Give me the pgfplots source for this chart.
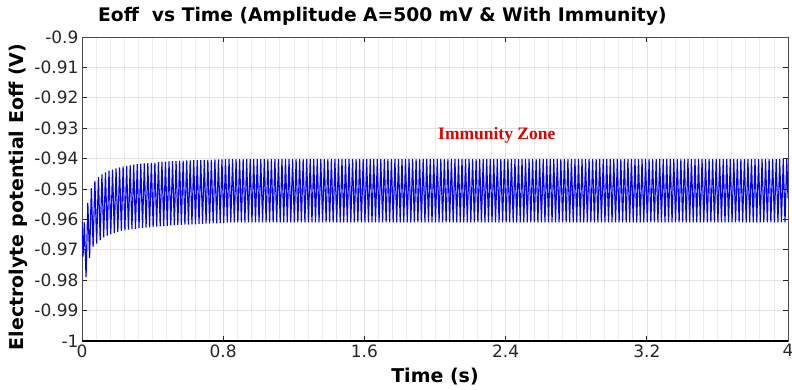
\documentclass[border=0pt]{standalone}
\usepackage{pgfplots}
\pgfplotsset{compat=1.18}
\usetikzlibrary{calc}
\usepackage{fontspec}
\setmainfont{DejaVu Sans}
\newfontfamily\serifbf{Liberation Serif}
\begin{document}
\begin{tikzpicture}
\begin{axis}[
  scale only axis, width=706pt, height=304pt,
  xmin=0, xmax=4, ymin=-1, ymax=-0.9,
  xtick={0,0.8,1.6,2.4,3.2,4}, xticklabels={0,0.8,1.6,2.4,3.2,4},
  ytick={-1,-0.99,-0.98,-0.97,-0.96,-0.95,-0.94,-0.93,-0.92,-0.91,-0.9},
  yticklabels={-1,-0.99,-0.98,-0.97,-0.96,-0.95,-0.94,-0.93,-0.92,-0.91,-0.9},
  tick label style={font=\fontsize{17}{17}\selectfont, text=black!85},
  minor x tick num=9,
  xmajorgrids, xminorgrids, ymajorgrids,
  major grid style={black!11, line width=0.6pt},
  minor grid style={black!7, line width=0.6pt},
  minor tick length=0pt, major tick length=5pt,
  axis line style={black!70, line width=0.6pt},
  tick style={black!85, line width=0.7pt},
]
\addplot[blue, line width=1.15pt] coordinates {
(0,-0.9607) (0.006,-0.9722) (0.013,-0.9610) (0.023,-0.9790) (0.033,-0.9546) (0.043,-0.9727) (0.053,-0.9497) (0.063,-0.9690) (0.073,-0.9473) (0.083,-0.9680)
(0.093,-0.9461) (0.103,-0.9668) (0.113,-0.9452) (0.123,-0.9659) (0.133,-0.9445) (0.143,-0.9653) (0.153,-0.9440) (0.163,-0.9648) (0.173,-0.9436) (0.183,-0.9644)
(0.193,-0.9432) (0.203,-0.9641) (0.213,-0.9429) (0.223,-0.9638) (0.233,-0.9426) (0.243,-0.9636) (0.253,-0.9424) (0.263,-0.9634) (0.273,-0.9422) (0.283,-0.9632)
(0.293,-0.9420) (0.303,-0.9631) (0.313,-0.9418) (0.323,-0.9629) (0.333,-0.9417) (0.343,-0.9628) (0.353,-0.9416) (0.363,-0.9627) (0.373,-0.9415) (0.383,-0.9626)
(0.393,-0.9414) (0.403,-0.9625) (0.413,-0.9413) (0.423,-0.9624) (0.433,-0.9412) (0.443,-0.9623) (0.453,-0.9411) (0.463,-0.9622) (0.473,-0.9410) (0.483,-0.9621)
(0.493,-0.9409) (0.503,-0.9620) (0.513,-0.9408) (0.523,-0.9619) (0.533,-0.9408) (0.543,-0.9619) (0.553,-0.9407) (0.563,-0.9618) (0.573,-0.9407) (0.583,-0.9617)
(0.593,-0.9406) (0.603,-0.9617) (0.613,-0.9406) (0.623,-0.9616) (0.633,-0.9405) (0.643,-0.9616) (0.653,-0.9405) (0.663,-0.9615) (0.673,-0.9405) (0.683,-0.9615)
(0.693,-0.9404) (0.703,-0.9614) (0.713,-0.9404) (0.723,-0.9614) (0.733,-0.9404) (0.743,-0.9613) (0.753,-0.9403) (0.763,-0.9613) (0.773,-0.9403) (0.783,-0.9612)
(0.793,-0.9403) (0.803,-0.9612)
(0.813,-0.9402) (0.823,-0.961) (0.833,-0.9402) (0.843,-0.961) (0.853,-0.9402) (0.863,-0.961) (0.873,-0.9402) (0.883,-0.961) (0.893,-0.9402) (0.903,-0.961)
(0.913,-0.9402) (0.923,-0.961) (0.933,-0.9402) (0.943,-0.961) (0.953,-0.9402) (0.963,-0.961) (0.973,-0.9402) (0.983,-0.961) (0.993,-0.9402) (1.003,-0.961)
(1.013,-0.9402) (1.023,-0.961) (1.033,-0.9402) (1.043,-0.961) (1.053,-0.9402) (1.063,-0.961) (1.073,-0.9402) (1.083,-0.961) (1.093,-0.9402) (1.103,-0.961)
(1.113,-0.9402) (1.123,-0.961) (1.133,-0.9402) (1.143,-0.961) (1.153,-0.9402) (1.163,-0.961) (1.173,-0.9402) (1.183,-0.961) (1.193,-0.9402) (1.203,-0.961)
(1.213,-0.9402) (1.223,-0.961) (1.233,-0.9402) (1.243,-0.961) (1.253,-0.9402) (1.263,-0.961) (1.273,-0.9402) (1.283,-0.961) (1.293,-0.9402) (1.303,-0.961)
(1.313,-0.9402) (1.323,-0.961) (1.333,-0.9402) (1.343,-0.961) (1.353,-0.9402) (1.363,-0.961) (1.373,-0.9402) (1.383,-0.961) (1.393,-0.9402) (1.403,-0.961)
(1.413,-0.9402) (1.423,-0.961) (1.433,-0.9402) (1.443,-0.961) (1.453,-0.9402) (1.463,-0.961) (1.473,-0.9402) (1.483,-0.961) (1.493,-0.9402) (1.503,-0.961)
(1.513,-0.9402) (1.523,-0.961) (1.533,-0.9402) (1.543,-0.961) (1.553,-0.9402) (1.563,-0.961) (1.573,-0.9402) (1.583,-0.961) (1.593,-0.9402) (1.603,-0.961)
(1.613,-0.9402) (1.623,-0.961) (1.633,-0.9402) (1.643,-0.961) (1.653,-0.9402) (1.663,-0.961) (1.673,-0.9402) (1.683,-0.961) (1.693,-0.9402) (1.703,-0.961)
(1.713,-0.9402) (1.723,-0.961) (1.733,-0.9402) (1.743,-0.961) (1.753,-0.9402) (1.763,-0.961) (1.773,-0.9402) (1.783,-0.961) (1.793,-0.9402) (1.803,-0.961)
(1.813,-0.9402) (1.823,-0.961) (1.833,-0.9402) (1.843,-0.961) (1.853,-0.9402) (1.863,-0.961) (1.873,-0.9402) (1.883,-0.961) (1.893,-0.9402) (1.903,-0.961)
(1.913,-0.9402) (1.923,-0.961) (1.933,-0.9402) (1.943,-0.961) (1.953,-0.9402) (1.963,-0.961) (1.973,-0.9402) (1.983,-0.961) (1.993,-0.9402) (2.003,-0.961)
(2.013,-0.9402) (2.023,-0.961) (2.033,-0.9402) (2.043,-0.961) (2.053,-0.9402) (2.063,-0.961) (2.073,-0.9402) (2.083,-0.961) (2.093,-0.9402) (2.103,-0.961)
(2.113,-0.9402) (2.123,-0.961) (2.133,-0.9402) (2.143,-0.961) (2.153,-0.9402) (2.163,-0.961) (2.173,-0.9402) (2.183,-0.961) (2.193,-0.9402) (2.203,-0.961)
(2.213,-0.9402) (2.223,-0.961) (2.233,-0.9402) (2.243,-0.961) (2.253,-0.9402) (2.263,-0.961) (2.273,-0.9402) (2.283,-0.961) (2.293,-0.9402) (2.303,-0.961)
(2.313,-0.9402) (2.323,-0.961) (2.333,-0.9402) (2.343,-0.961) (2.353,-0.9402) (2.363,-0.961) (2.373,-0.9402) (2.383,-0.961) (2.393,-0.9402) (2.403,-0.961)
(2.413,-0.9402) (2.423,-0.961) (2.433,-0.9402) (2.443,-0.961) (2.453,-0.9402) (2.463,-0.961) (2.473,-0.9402) (2.483,-0.961) (2.493,-0.9402) (2.503,-0.961)
(2.513,-0.9402) (2.523,-0.961) (2.533,-0.9402) (2.543,-0.961) (2.553,-0.9402) (2.563,-0.961) (2.573,-0.9402) (2.583,-0.961) (2.593,-0.9402) (2.603,-0.961)
(2.613,-0.9402) (2.623,-0.961) (2.633,-0.9402) (2.643,-0.961) (2.653,-0.9402) (2.663,-0.961) (2.673,-0.9402) (2.683,-0.961) (2.693,-0.9402) (2.703,-0.961)
(2.713,-0.9402) (2.723,-0.961) (2.733,-0.9402) (2.743,-0.961) (2.753,-0.9402) (2.763,-0.961) (2.773,-0.9402) (2.783,-0.961) (2.793,-0.9402) (2.803,-0.961)
(2.813,-0.9402) (2.823,-0.961) (2.833,-0.9402) (2.843,-0.961) (2.853,-0.9402) (2.863,-0.961) (2.873,-0.9402) (2.883,-0.961) (2.893,-0.9402) (2.903,-0.961)
(2.913,-0.9402) (2.923,-0.961) (2.933,-0.9402) (2.943,-0.961) (2.953,-0.9402) (2.963,-0.961) (2.973,-0.9402) (2.983,-0.961) (2.993,-0.9402) (3.003,-0.961)
(3.013,-0.9402) (3.023,-0.961) (3.033,-0.9402) (3.043,-0.961) (3.053,-0.9402) (3.063,-0.961) (3.073,-0.9402) (3.083,-0.961) (3.093,-0.9402) (3.103,-0.961)
(3.113,-0.9402) (3.123,-0.961) (3.133,-0.9402) (3.143,-0.961) (3.153,-0.9402) (3.163,-0.961) (3.173,-0.9402) (3.183,-0.961) (3.193,-0.9402) (3.203,-0.961)
(3.213,-0.9402) (3.223,-0.961) (3.233,-0.9402) (3.243,-0.961) (3.253,-0.9402) (3.263,-0.961) (3.273,-0.9402) (3.283,-0.961) (3.293,-0.9402) (3.303,-0.961)
(3.313,-0.9402) (3.323,-0.961) (3.333,-0.9402) (3.343,-0.961) (3.353,-0.9402) (3.363,-0.961) (3.373,-0.9402) (3.383,-0.961) (3.393,-0.9402) (3.403,-0.961)
(3.413,-0.9402) (3.423,-0.961) (3.433,-0.9402) (3.443,-0.961) (3.453,-0.9402) (3.463,-0.961) (3.473,-0.9402) (3.483,-0.961) (3.493,-0.9402) (3.503,-0.961)
(3.513,-0.9402) (3.523,-0.961) (3.533,-0.9402) (3.543,-0.961) (3.553,-0.9402) (3.563,-0.961) (3.573,-0.9402) (3.583,-0.961) (3.593,-0.9402) (3.603,-0.961)
(3.613,-0.9402) (3.623,-0.961) (3.633,-0.9402) (3.643,-0.961) (3.653,-0.9402) (3.663,-0.961) (3.673,-0.9402) (3.683,-0.961) (3.693,-0.9402) (3.703,-0.961)
(3.713,-0.9402) (3.723,-0.961) (3.733,-0.9402) (3.743,-0.961) (3.753,-0.9402) (3.763,-0.961) (3.773,-0.9402) (3.783,-0.961) (3.793,-0.9402) (3.803,-0.961)
(3.813,-0.9402) (3.823,-0.961) (3.833,-0.9402) (3.843,-0.961) (3.853,-0.9402) (3.863,-0.961) (3.873,-0.9402) (3.883,-0.961) (3.893,-0.9402) (3.903,-0.961)
(3.913,-0.9402) (3.923,-0.961) (3.933,-0.9402) (3.943,-0.961) (3.953,-0.9402) (3.963,-0.961) (3.973,-0.9402) (3.983,-0.961) (3.993,-0.9402) (4.0,-0.9530)
};
\node[text=red!90!black, font=\serifbf\bfseries\fontsize{17.5}{17.5}\selectfont] at (axis cs:2.35,-0.9322) {Immunity Zone};
\coordinate (bl) at (rel axis cs:0,0);
\coordinate (tr) at (rel axis cs:1,1);
\end{axis}
\draw[black, line width=1.5pt] (bl) -- (bl -| tr);
\node[anchor=west, font=\bfseries\fontsize{18.7}{18.7}\selectfont, inner sep=0pt] at ([shift={(16pt,21pt)}]bl |- tr) {Eoff\ \ vs Time (Amplitude A=500 mV \& With Immunity)};
\node[font=\bfseries\fontsize{19}{19}\selectfont, inner sep=0pt] at ([yshift=-36pt]$(bl)!0.5!(bl -| tr)$) {Time (s)};
\node[font=\bfseries\fontsize{19}{19}\selectfont, inner sep=0pt, rotate=90] at ([shift={(-64pt,-8pt)}]$(bl)!0.5!(bl |- tr)$) {Electrolyte potential Eoff (V)};
\pgfresetboundingbox
\path[use as bounding box] ([shift={(-82pt,-49pt)}]bl) rectangle ([shift={(4pt,37pt)}]tr);
\end{tikzpicture}
\end{document}
